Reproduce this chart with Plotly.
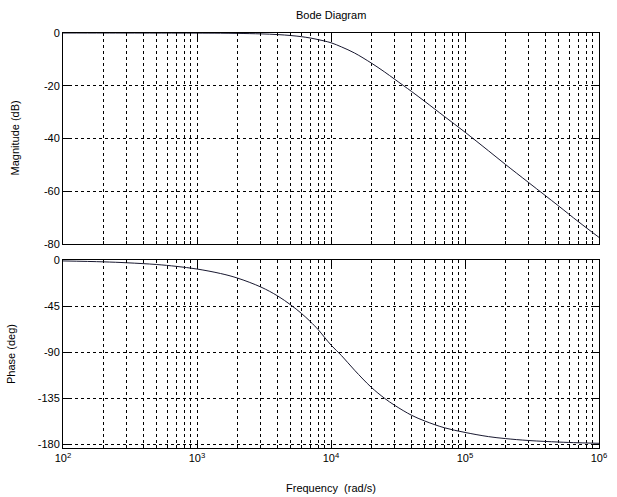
import plotly.graph_objects as go

# Frequencies (rad/s) and values
freq = [1e2, 2e2, 3e2, 5e2, 7e2, 1e3, 1.5e3, 2e3, 3e3, 4e3, 5e3, 6e3, 7e3, 8e3,
        1e4, 1.2e4, 1.5e4, 2e4, 2.5e4, 3e4, 4e4, 5e4, 7e4, 1e5, 1.5e5, 2e5,
        3e5, 5e5, 7e5, 1e6]
mag_db = [0.0, -0.01, -0.02, -0.03, -0.04, -0.05, -0.08, -0.15, -0.33, -0.6,
          -0.95, -1.38, -1.9, -2.49, -3.7, -5.3, -7.6, -11.4, -14.7, -17.6,
          -22.2, -25.9, -31.6, -37.6, -44.7, -49.8, -56.8, -65.6, -71.5, -77.5]
phase_deg = [-0.9, -1.8, -2.7, -4.4, -6.2, -8.8, -13.2, -17.6, -26.4, -35.1,
             -43.8, -52.0, -60.0, -67.8, -83.0, -93.4, -107.6, -124.3, -134.8,
             -142.0, -151.6, -157.1, -163.7, -168.3, -172.4, -174.3, -176.2,
             -177.7, -178.4, -178.9]

decades = [1e2, 1e3, 1e4, 1e5, 1e6]
decade_text = ["10<sup>2</sup>", "10<sup>3</sup>", "10<sup>4</sup>",
               "10<sup>5</sup>", "10<sup>6</sup>"]
minor_vals = [m * d for d in [1e2, 1e3, 1e4, 1e5] for m in range(2, 10)]
mag_ticks = [0, -20, -40, -60, -80]
phase_ticks = [0, -45, -90, -135, -180]

curve_color = "#181830"
font = dict(family="Liberation Sans, Arial, sans-serif", size=11, color="black")

fig = go.Figure()
fig.add_trace(go.Scatter(x=freq, y=mag_db, mode="lines", line=dict(color=curve_color, width=1, shape="spline"),
                         xaxis="x", yaxis="y", showlegend=False, hoverinfo="skip"))
fig.add_trace(go.Scatter(x=freq, y=phase_deg, mode="lines", line=dict(color=curve_color, width=1, shape="spline"),
                         xaxis="x2", yaxis="y2", showlegend=False, hoverinfo="skip"))

common_x = dict(
    type="log", range=[2, 6], showline=True, linecolor="black", linewidth=1, mirror="ticks",
    tickmode="array", tickvals=decades, ticks="inside", ticklen=6, tickcolor="black",
    showgrid=True, gridcolor="black", gridwidth=1, griddash="3px,3px",
    minor=dict(tickmode="array", tickvals=minor_vals, ticks="inside", ticklen=3, tickcolor="black",
               showgrid=True, gridcolor="black", gridwidth=1, griddash="3px,3px"),
    zeroline=False, tickfont=font,
)
common_y = dict(showline=True, linecolor="black", linewidth=1, mirror="ticks",
                ticks="inside", ticklen=6, tickcolor="black", tickmode="array",
                showgrid=True, gridcolor="black", gridwidth=1, griddash="3px,3px",
                zeroline=False, tickfont=font)

fig.update_layout(
    width=617, height=497,
    margin=dict(l=63, r=10, t=33, b=49),
    paper_bgcolor="white", plot_bgcolor="white",
    font=font,
    xaxis=dict(common_x, domain=[0, 1], anchor="y", showticklabels=False, ticktext=decade_text),
    yaxis=dict(common_y, domain=[0.4916, 1.0], range=[-80, 0], tickvals=mag_ticks,
               ticktext=[str(v) for v in mag_ticks], anchor="x"),
    xaxis2=dict(common_x, domain=[0, 1], anchor="y2", ticktext=decade_text),
    yaxis2=dict(common_y, domain=[0, 0.453], range=[-183.5, 0], tickvals=phase_ticks,
                ticktext=[str(v) for v in phase_ticks], anchor="x2"),
    annotations=[
        dict(text="Bode Diagram", x=0.5, y=1, xref="paper", yref="paper", xanchor="center",
             yanchor="bottom", yshift=10, showarrow=False, font=font),
        dict(text="Magnitude (dB)", x=0, y=0.7458, xref="paper", yref="paper", xanchor="right",
             yanchor="middle", xshift=-40, textangle=-90, showarrow=False, font=font),
        dict(text="Phase (deg)", x=0, y=0.2265, xref="paper", yref="paper", xanchor="right",
             yanchor="middle", xshift=-44, textangle=-90, showarrow=False, font=font),
        dict(text="Frequency  (rad/s)", x=0.5, y=0, xref="paper", yref="paper", xanchor="center",
             yanchor="top", yshift=-32, showarrow=False, font=font),
    ],
)

fig.write_html("out.html", config={"displayModeBar": False},
               post_script="document.body.style.margin='0';document.body.style.overflow='hidden';")
